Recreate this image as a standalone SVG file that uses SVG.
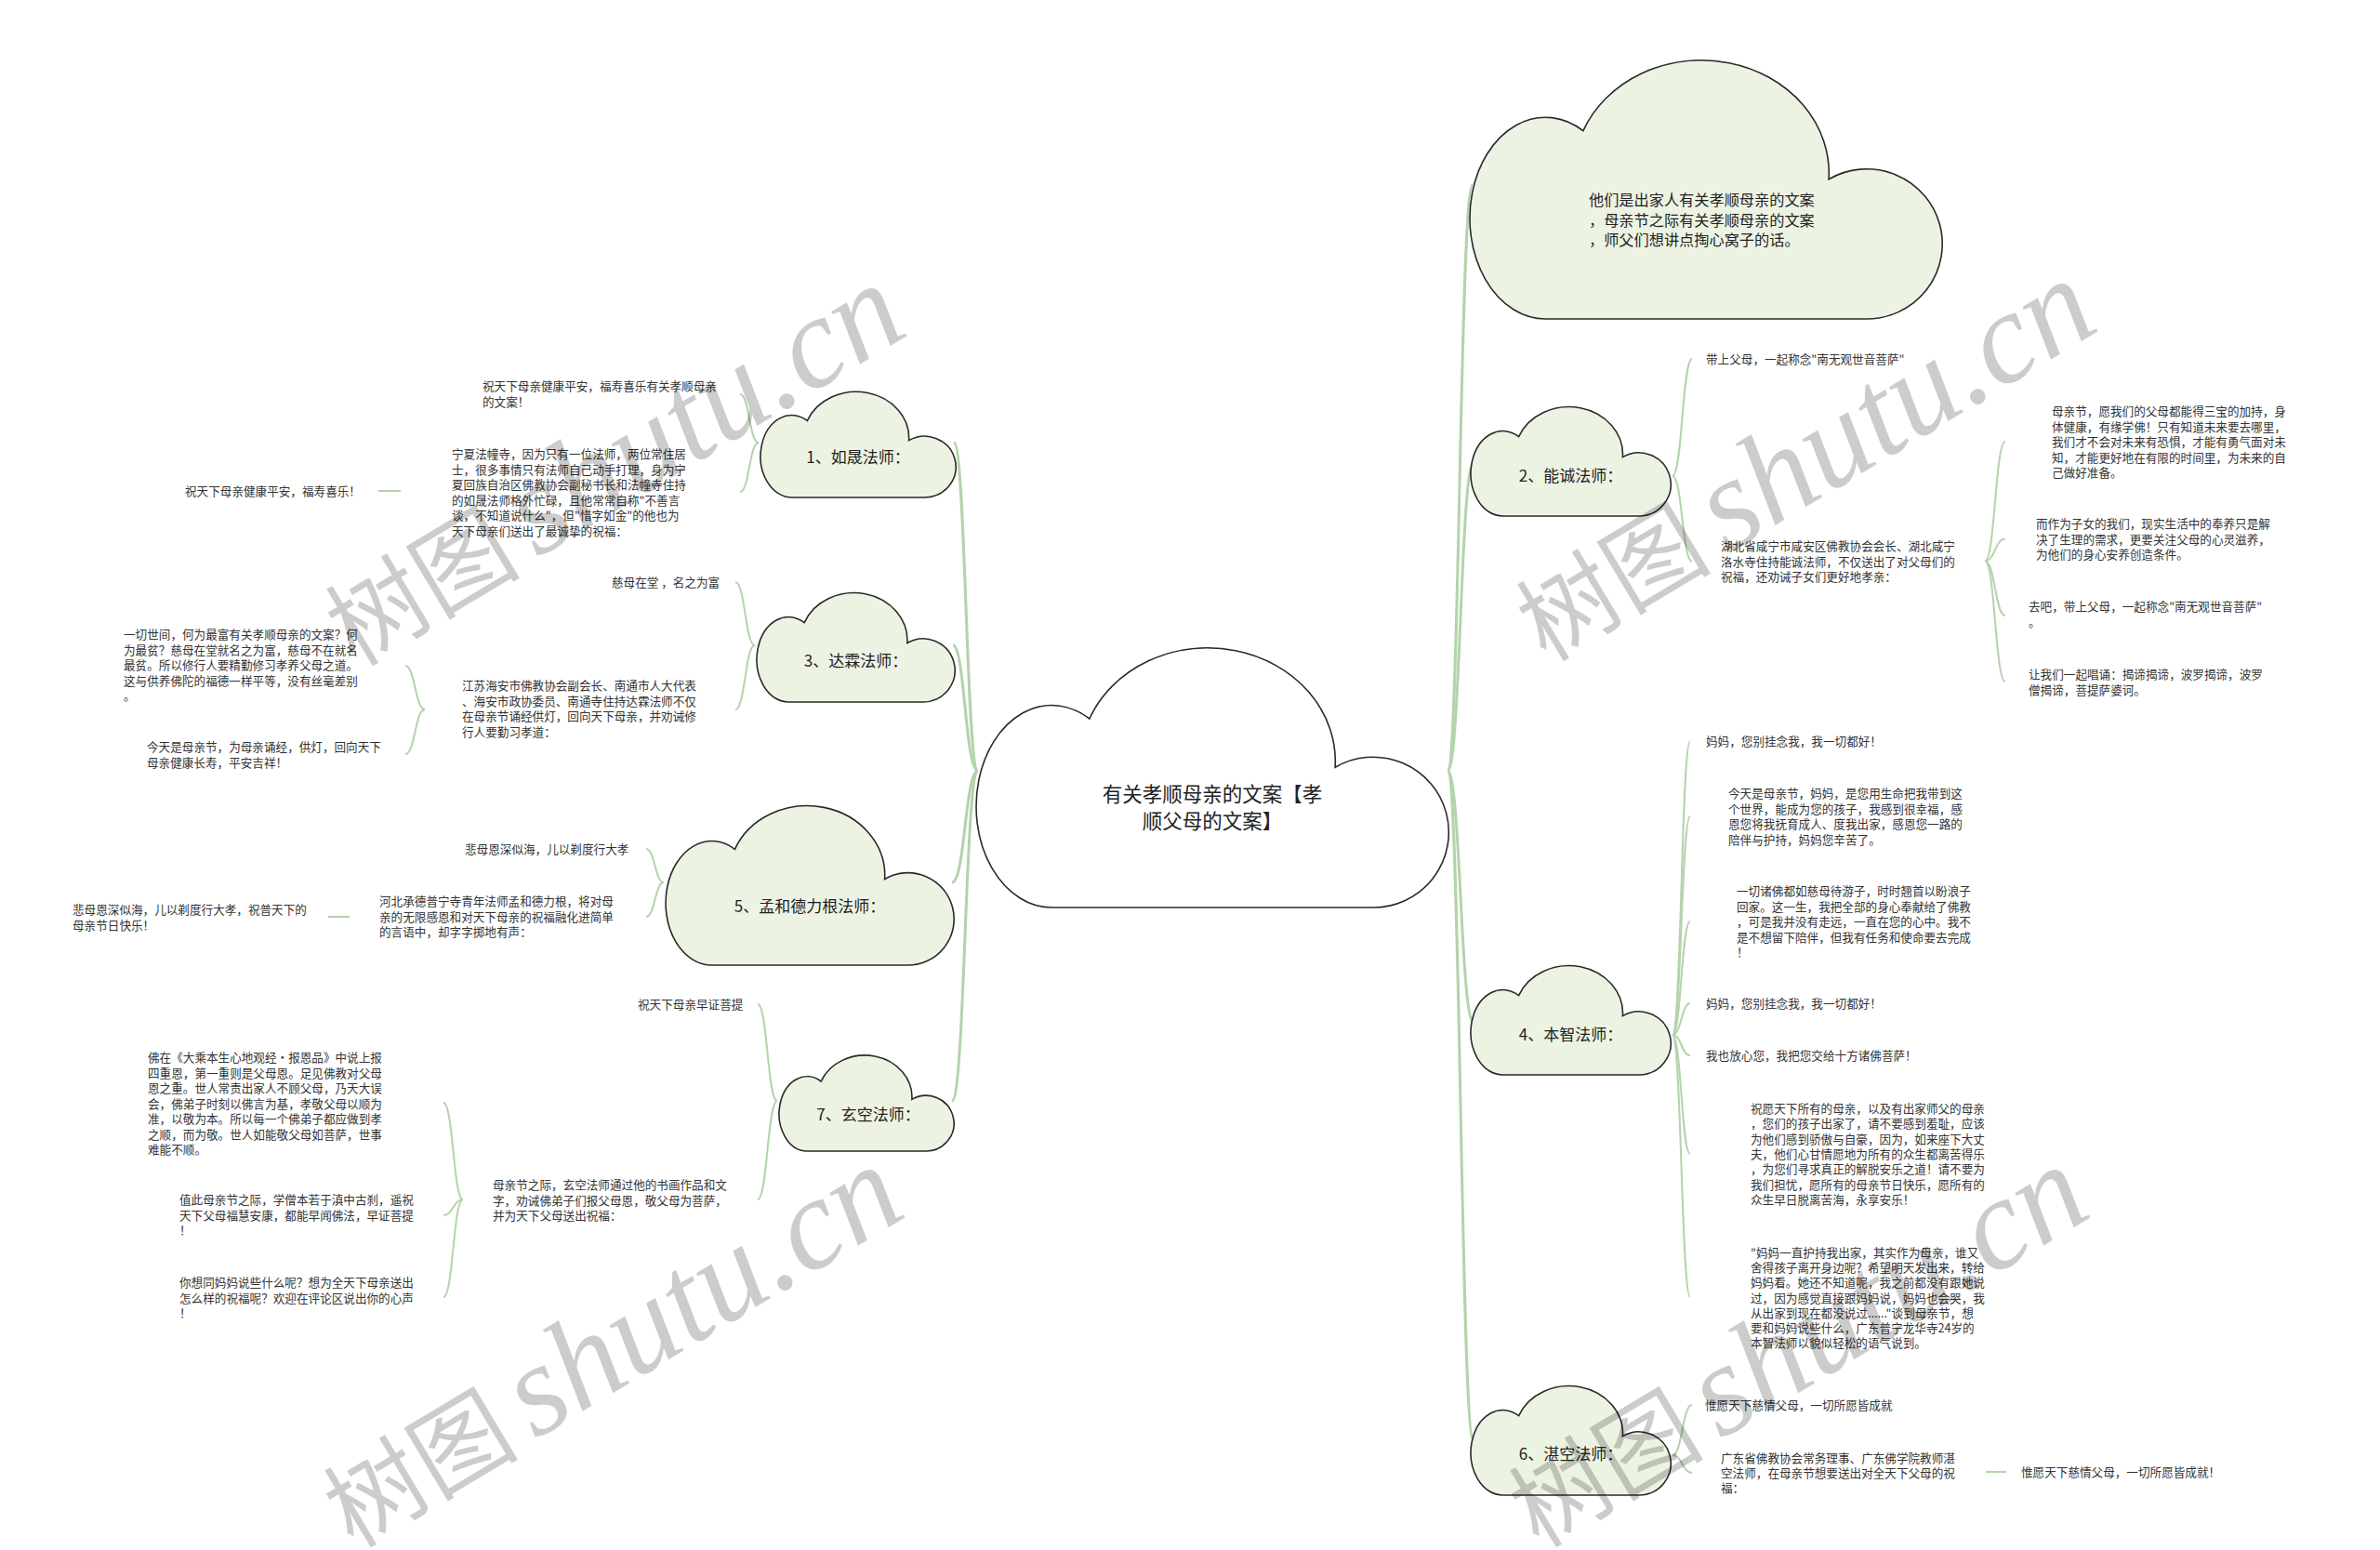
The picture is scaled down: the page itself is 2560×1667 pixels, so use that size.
<svg xmlns="http://www.w3.org/2000/svg" width="2560" height="1667" viewBox="0 0 2560 1667">
<style>
.t{font-family:'Noto Sans CJK SC','Noto Sans CJK JP',sans-serif;font-size:12.6px;fill:#333}
.lbl{font-family:'Noto Sans CJK SC','Noto Sans CJK JP',sans-serif;font-size:17px;fill:#222;text-anchor:middle}
.ctr{font-family:'Noto Sans CJK SC','Noto Sans CJK JP',sans-serif;font-size:21.5px;fill:#222;text-anchor:middle}
.intro{font-family:'Noto Sans CJK SC','Noto Sans CJK JP',sans-serif;font-size:16.2px;fill:#222}
.cloud{fill:#edf3e3;stroke:#2a2a2a;stroke-width:1.6}
.cmain{fill:#ffffff;stroke:#2a2a2a;stroke-width:1.6}
.c1{fill:none;stroke:#b4d3ac;stroke-width:3}
.c2{fill:none;stroke:#b4d3ac;stroke-width:2}
.wmc{font-family:'Noto Sans CJK SC',sans-serif;font-size:105px}
.wml{font-family:'Liberation Serif',serif;font-style:italic;font-size:140px}
</style>
<rect width="2560" height="1667" fill="#ffffff"/>
<g id="connectors">
<path class="c1" d="M1052,829 C1039,829 1039,476 1026,476"/>
<path class="c1" d="M1052,829 C1038,829 1038,694 1025,694"/>
<path class="c1" d="M1052,829 C1038,829 1038,949 1024,949"/>
<path class="c1" d="M1052,829 C1038,829 1038,1184 1024,1184"/>
<path class="c1" d="M1557,829 C1570,829 1570,199 1584,199"/>
<path class="c1" d="M1557,829 C1571,829 1571,498 1585,498"/>
<path class="c1" d="M1557,829 C1571,829 1571,1099 1585,1099"/>
<path class="c1" d="M1557,829 C1571,829 1571,1550 1585,1550"/>
<path class="c2" d="M816,476 C806,476 806,424 796,424"/>
<path class="c2" d="M816,476 C806,476 806,529 796,529"/>
<path class="c2" d="M812,694 C801.5,694 801.5,626 791,626"/>
<path class="c2" d="M812,694 C801.5,694 801.5,763 791,763"/>
<path class="c2" d="M714,949 C704.5,949 704.5,913 695,913"/>
<path class="c2" d="M714,949 C704.5,949 704.5,986 695,986"/>
<path class="c2" d="M836,1184 C825.5,1184 825.5,1080 815,1080"/>
<path class="c2" d="M836,1184 C825.5,1184 825.5,1290 815,1290"/>
<path class="c2" d="M457,763 C446.5,763 446.5,716 436,716"/>
<path class="c2" d="M457,763 C446.5,763 446.5,811 436,811"/>
<path class="c2" d="M498,1290 C487.5,1290 487.5,1186 477,1186"/>
<path class="c2" d="M498,1290 C487.5,1290 487.5,1307 477,1307"/>
<path class="c2" d="M498,1290 C487.5,1290 487.5,1395 477,1395"/>
<path class="c2" d="M407,528 L431,528"/>
<path class="c2" d="M353,986 L376,986"/>
<path class="c2" d="M1799,512 C1809.5,512 1809.5,386 1820,386"/>
<path class="c2" d="M1799,512 C1809.5,512 1809.5,603.5 1820,603.5"/>
<path class="c2" d="M2135,603.5 C2146,603.5 2146,475 2157,475"/>
<path class="c2" d="M2135,603.5 C2146,603.5 2146,579.5 2157,579.5"/>
<path class="c2" d="M2135,603.5 C2146,603.5 2146,662 2157,662"/>
<path class="c2" d="M2135,603.5 C2146,603.5 2146,733 2157,733"/>
<path class="c2" d="M1799,1113 C1808.5,1113 1808.5,797 1818,797"/>
<path class="c2" d="M1799,1113 C1808.5,1113 1808.5,878 1818,878"/>
<path class="c2" d="M1799,1113 C1808.5,1113 1808.5,991 1818,991"/>
<path class="c2" d="M1799,1113 C1808.5,1113 1808.5,1079 1818,1079"/>
<path class="c2" d="M1799,1113 C1808.5,1113 1808.5,1135 1818,1135"/>
<path class="c2" d="M1799,1113 C1808.5,1113 1808.5,1241 1818,1241"/>
<path class="c2" d="M1799,1113 C1808.5,1113 1808.5,1395 1818,1395"/>
<path class="c2" d="M1799,1565 C1809.5,1565 1809.5,1511 1820,1511"/>
<path class="c2" d="M1799,1565 C1809.5,1565 1809.5,1584 1820,1584"/>
<path class="c2" d="M2136,1583 L2158,1583"/>
</g>
<g id="root">
<path class="cmain" d="M1131.3,976 A81.3,108.75 0 1 1 1171.9,773 A137.2,121.8 0 0 1 1436.1,825.2 A81.3,80.9 0 1 1 1476.7,976 Z"/>
<text class="ctr"><tspan x="1304" y="862">有关孝顺母亲的文案【孝</tspan><tspan x="1304" y="891">顺父母的文案】</tspan></text>
</g>
<g id="intro">
<path class="cloud" d="M1662.3,343 A81.3,108.4 0 1 1 1702.9,140.7 A137.2,121.4 0 0 1 1967.1,192.7 A81.3,80.6 0 1 1 2007.7,343 Z"/>
<text class="intro"><tspan x="1709" y="221">他们是出家人有关孝顺母亲的文案</tspan><tspan x="1709" y="243">，母亲节之际有关孝顺母亲的文案</tspan><tspan x="1709" y="264">，师父们想讲点掏心窝子的话。</tspan></text>
</g>
<g id="n1">
<path class="cloud" d="M851.6,535 A33.6,44.25 0 1 1 868.4,452.4 A56.7,49.56 0 0 1 977.6,473.64 A33.6,32.92 0 1 1 994.4,535 Z"/>
<text class="lbl" x="923" y="498">1、如晟法师：</text>
</g>
<g id="n1a"><text class="t"><tspan x="519" y="420">祝天下母亲健康平安，福寿喜乐有关孝顺母亲</tspan><tspan x="519" y="437">的文案！</tspan></text></g>
<g id="n1b"><text class="t"><tspan x="486" y="493">宁夏法幢寺，因为只有一位法师，两位常住居</tspan><tspan x="486" y="509.5">士，很多事情只有法师自己动手打理，身为宁</tspan><tspan x="486" y="526">夏回族自治区佛教协会副秘书长和法幢寺住持</tspan><tspan x="486" y="542.5">的如晟法师格外忙碌，且他常常自称"不善言</tspan><tspan x="486" y="559">谈，不知道说什么"，但"惜字如金"的他也为</tspan><tspan x="486" y="575.5">天下母亲们送出了最诚挚的祝福：</tspan></text></g>
<g id="n1c"><text class="t" x="199" y="533">祝天下母亲健康平安，福寿喜乐！</text></g>
<g id="n3">
<path class="cloud" d="M848.08,755 A34.08,45.75 0 1 1 865.12,669.6 A57.51,51.24 0 0 1 975.88,691.56 A34.08,34.04 0 1 1 992.92,755 Z"/>
<text class="lbl" x="920.5" y="716.5">3、达霖法师：</text>
</g>
<g id="n3a"><text class="t" x="658" y="631">慈母在堂 ，名之为富</text></g>
<g id="n3b"><text class="t"><tspan x="497" y="742">江苏海安市佛教协会副会长、南通市人大代表</tspan><tspan x="497" y="758.5">、海安市政协委员、南通寺住持达霖法师不仅</tspan><tspan x="497" y="775">在母亲节诵经供灯，回向天下母亲，并劝诫修</tspan><tspan x="497" y="791.5">行人要勤习孝道：</tspan></text></g>
<g id="n3c"><text class="t"><tspan x="133" y="687">一切世间，何为最富有关孝顺母亲的文案？何</tspan><tspan x="133" y="703.5">为最贫？慈母在堂就名之为富，慈母不在就名</tspan><tspan x="133" y="720">最贫。所以修行人要精勤修习孝养父母之道。</tspan><tspan x="133" y="736.5">这与供养佛陀的福德一样平等，没有丝毫差别</tspan><tspan x="133" y="753">。</tspan></text></g>
<g id="n3d"><text class="t"><tspan x="158" y="808">今天是母亲节，为母亲诵经，供灯，回向天下</tspan><tspan x="158" y="824.5">母亲健康长寿，平安吉祥！</tspan></text></g>
<g id="n5">
<path class="cloud" d="M765.6,1038 A49.6,66.75 0 1 1 790.4,913.4 A83.7,74.76 0 0 1 951.6,945.44 A49.6,49.66 0 1 1 976.4,1038 Z"/>
<text class="lbl" x="871" y="981">5、孟和德力根法师：</text>
</g>
<g id="n5a"><text class="t" x="500" y="918">悲母恩深似海，儿以剃度行大孝</text></g>
<g id="n5b"><text class="t"><tspan x="408" y="974">河北承德普宁寺青年法师孟和德力根，将对母</tspan><tspan x="408" y="990.5">亲的无限感恩和对天下母亲的祝福融化进简单</tspan><tspan x="408" y="1007">的言语中，却字字掷地有声：</tspan></text></g>
<g id="n5c"><text class="t"><tspan x="78" y="983">悲母恩深似海，儿以剃度行大孝，祝普天下的</tspan><tspan x="78" y="999.5">母亲节日快乐！</tspan></text></g>
<g id="n7">
<path class="cloud" d="M868.08,1238 A30.08,40.125 0 1 1 883.12,1163.1 A50.76,44.94 0 0 1 980.88,1182.36 A30.08,29.85 0 1 1 995.92,1238 Z"/>
<text class="lbl" x="934" y="1205">7、玄空法师：</text>
</g>
<g id="n7a"><text class="t" x="686" y="1085">祝天下母亲早证菩提</text></g>
<g id="n7b"><text class="t"><tspan x="530" y="1279">母亲节之际，玄空法师通过他的书画作品和文</tspan><tspan x="530" y="1295.5">字，劝诫佛弟子们报父母恩，敬父母为菩萨，</tspan><tspan x="530" y="1312">并为天下父母送出祝福：</tspan></text></g>
<g id="n7c"><text class="t"><tspan x="159" y="1142">佛在《大乘本生心地观经•报恩品》中说上报</tspan><tspan x="159" y="1158.5">四重恩，第一重则是父母恩。足见佛教对父母</tspan><tspan x="159" y="1175">恩之重。世人常责出家人不顾父母，乃天大误</tspan><tspan x="159" y="1191.5">会，佛弟子时刻以佛言为基，孝敬父母以顺为</tspan><tspan x="159" y="1208">准，以敬为本。所以每一个佛弟子都应做到孝</tspan><tspan x="159" y="1224.5">之顺，而为敬。世人如能敬父母如菩萨，世事</tspan><tspan x="159" y="1241">难能不顺。</tspan></text></g>
<g id="n7d"><text class="t"><tspan x="193" y="1295">值此母亲节之际，学僧本若于滇中古刹，遥祝</tspan><tspan x="193" y="1311.5">天下父母福慧安康，都能早闻佛法，早证菩提</tspan><tspan x="193" y="1328">！</tspan></text></g>
<g id="n7e"><text class="t"><tspan x="193" y="1384">你想同妈妈说些什么呢？想为全天下母亲送出</tspan><tspan x="193" y="1400.5">怎么样的祝福呢？欢迎在评论区说出你的心声</tspan><tspan x="193" y="1417">！</tspan></text></g>
<g id="n2">
<path class="cloud" d="M1616.4,555 A34.4,45.75 0 1 1 1633.6,469.6 A58.05,51.24 0 0 1 1745.4,491.6 A34.4,34.04 0 1 1 1762.6,555 Z"/>
<text class="lbl" x="1689.5" y="518">2、能诚法师：</text>
</g>
<g id="n2a"><text class="t" x="1835" y="391">带上父母，一起称念"南无观世音菩萨"</text></g>
<g id="n2b"><text class="t"><tspan x="1851" y="592">湖北省咸宁市咸安区佛教协会会长、湖北咸宁</tspan><tspan x="1851" y="608.5">洛水寺住持能诚法师，不仅送出了对父母们的</tspan><tspan x="1851" y="625">祝福，还劝诫子女们更好地孝亲：</tspan></text></g>
<g id="n2c"><text class="t"><tspan x="2207" y="447">母亲节，愿我们的父母都能得三宝的加持，身</tspan><tspan x="2207" y="463.5">体健康，有缘学佛！只有知道未来要去哪里，</tspan><tspan x="2207" y="480">我们才不会对未来有恐惧，才能有勇气面对未</tspan><tspan x="2207" y="496.5">知，才能更好地在有限的时间里，为未来的自</tspan><tspan x="2207" y="513">己做好准备。</tspan></text></g>
<g id="n2d"><text class="t"><tspan x="2190" y="568">而作为子女的我们，现实生活中的奉养只是解</tspan><tspan x="2190" y="584.5">决了生理的需求，更要关注父母的心灵滋养，</tspan><tspan x="2190" y="601">为他们的身心安养创造条件。</tspan></text></g>
<g id="n2e"><text class="t"><tspan x="2182" y="657">去吧，带上父母，一起称念"南无观世音菩萨"</tspan><tspan x="2182" y="674">。</tspan></text></g>
<g id="n2f"><text class="t"><tspan x="2182" y="730">让我们一起唱诵：揭谛揭谛，波罗揭谛，波罗</tspan><tspan x="2182" y="746.5">僧揭谛，菩提萨婆诃。</tspan></text></g>
<g id="n4">
<path class="cloud" d="M1616.4,1156 A34.4,45.75 0 1 1 1633.6,1070.6 A58.05,51.24 0 0 1 1745.4,1092.6 A34.4,34.04 0 1 1 1762.6,1156 Z"/>
<text class="lbl" x="1689.5" y="1119">4、本智法师：</text>
</g>
<g id="n4a"><text class="t" x="1835" y="802">妈妈，您别挂念我，我一切都好！</text></g>
<g id="n4b"><text class="t"><tspan x="1859" y="858">今天是母亲节，妈妈，是您用生命把我带到这</tspan><tspan x="1859" y="874.5">个世界，能成为您的孩子，我感到很幸福，感</tspan><tspan x="1859" y="891">恩您将我抚育成人、度我出家，感恩您一路的</tspan><tspan x="1859" y="907.5">陪伴与护持，妈妈您辛苦了。</tspan></text></g>
<g id="n4c"><text class="t"><tspan x="1868" y="963">一切诸佛都如慈母待游子，时时翘首以盼浪子</tspan><tspan x="1868" y="979.5">回家。这一生，我把全部的身心奉献给了佛教</tspan><tspan x="1868" y="996">，可是我并没有走远，一直在您的心中。我不</tspan><tspan x="1868" y="1012.5">是不想留下陪伴，但我有任务和使命要去完成</tspan><tspan x="1868" y="1029">！</tspan></text></g>
<g id="n4d"><text class="t" x="1835" y="1084">妈妈，您别挂念我，我一切都好！</text></g>
<g id="n4e"><text class="t" x="1835" y="1140">我也放心您，我把您交给十方诸佛菩萨！</text></g>
<g id="n4f"><text class="t"><tspan x="1883" y="1197">祝愿天下所有的母亲，以及有出家师父的母亲</tspan><tspan x="1883" y="1213.3">，您们的孩子出家了，请不要感到羞耻，应该</tspan><tspan x="1883" y="1229.6">为他们感到骄傲与自豪，因为，如来座下大丈</tspan><tspan x="1883" y="1246">夫，他们心甘情愿地为所有的众生都离苦得乐</tspan><tspan x="1883" y="1262.3">，为您们寻求真正的解脱安乐之道！请不要为</tspan><tspan x="1883" y="1278.6">我们担忧，愿所有的母亲节日快乐，愿所有的</tspan><tspan x="1883" y="1295">众生早日脱离苦海，永享安乐！</tspan></text></g>
<g id="n4g"><text class="t"><tspan x="1883" y="1352">"妈妈一直护持我出家，其实作为母亲，谁又</tspan><tspan x="1883" y="1368.2">舍得孩子离开身边呢？希望明天发出来，转给</tspan><tspan x="1883" y="1384.4">妈妈看。她还不知道呢，我之前都没有跟她说</tspan><tspan x="1883" y="1400.6">过，因为感觉直接跟妈妈说，妈妈也会哭，我</tspan><tspan x="1883" y="1416.8">从出家到现在都没说过......"谈到母亲节，想</tspan><tspan x="1883" y="1433">要和妈妈说些什么，广东普宁龙华寺24岁的</tspan><tspan x="1883" y="1449">本智法师以貌似轻松的语气说到。</tspan></text></g>
<g id="n6">
<path class="cloud" d="M1616.4,1608 A34.4,45.75 0 1 1 1633.6,1522.6 A58.05,51.24 0 0 1 1745.4,1544.6 A34.4,34.04 0 1 1 1762.6,1608 Z"/>
<text class="lbl" x="1689.5" y="1570">6、湛空法师：</text>
</g>
<g id="n6a"><text class="t" x="1834" y="1516">惟愿天下慈情父母，一切所愿皆成就</text></g>
<g id="n6b"><text class="t"><tspan x="1851" y="1573">广东省佛教协会常务理事、广东佛学院教师湛</tspan><tspan x="1851" y="1589">空法师，在母亲节想要送出对全天下父母的祝</tspan><tspan x="1851" y="1605">福：</tspan></text></g>
<g id="n6c"><text class="t" x="2174" y="1588">惟愿天下慈情父母，一切所愿皆成就！</text></g>
<g id="watermarks" fill="#000" fill-opacity="0.2">
<text transform="translate(382,718) rotate(-31)"><tspan class="wmc">树图</tspan><tspan class="wml" dx="18">shutu.cn</tspan></text>
<text transform="translate(1663,713) rotate(-31)"><tspan class="wmc">树图</tspan><tspan class="wml" dx="18">shutu.cn</tspan></text>
<text transform="translate(380,1666) rotate(-31)"><tspan class="wmc">树图</tspan><tspan class="wml" dx="18">shutu.cn</tspan></text>
<text transform="translate(1655,1666) rotate(-31)"><tspan class="wmc">树图</tspan><tspan class="wml" dx="18">shutu.cn</tspan></text>
</g>
</svg>
